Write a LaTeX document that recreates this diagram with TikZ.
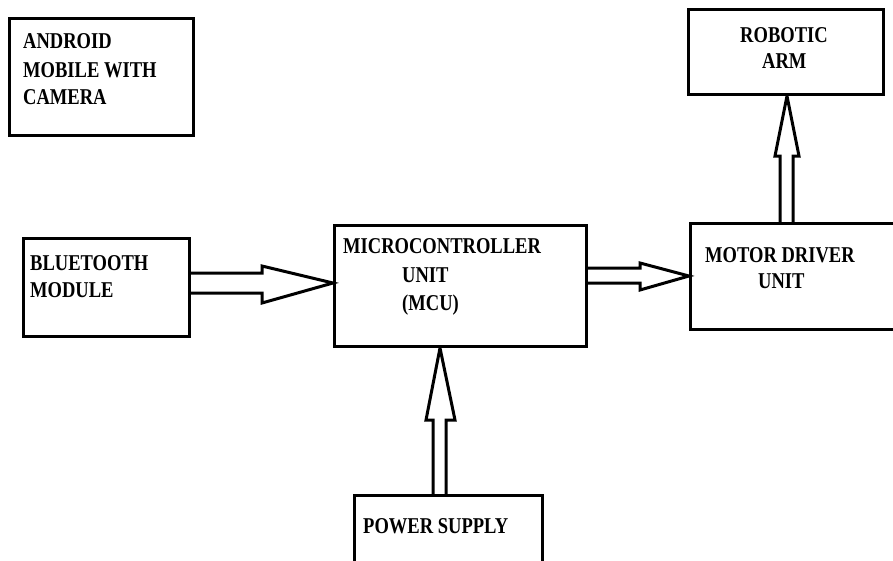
\documentclass[tikz,border=0pt]{standalone}
\usepackage{fontspec}
\setmainfont{Liberation Serif}[FakeStretch=0.82]
\usetikzlibrary{calc}
\tikzset{
  box/.style={draw, line width=3pt, rectangle, inner sep=0pt, anchor=north west},
  lbl/.style={anchor=base west, inner sep=0pt, font=\fontsize{22.6}{28}\selectfont\bfseries},
  barrow/.style={draw, line width=3pt, line join=miter, miter limit=4}
}
\begin{document}
\begin{tikzpicture}[x=1pt, y=-1pt]
\useasboundingbox[fill=white] (0,0) rectangle (893,560);
% boxes
\node[box, minimum width=184pt, minimum height=117pt] (and) at (8,17) {};
\node[box, minimum width=166pt, minimum height=98pt] (bt) at (22,237) {};
\node[box, minimum width=252pt, minimum height=121pt] (mcu) at (333,224) {};
\node[box, minimum width=240pt, minimum height=106pt] (mot) at (689,222) {};
\node[box, minimum width=195pt, minimum height=85pt] (rob) at (687,8) {};
\node[box, minimum width=188pt, minimum height=90pt] (pwr) at (353,494) {};
% texts
\node[lbl] (t1) at (23,48) {ANDROID};
\node[lbl] (t2) at (23,77) {MOBILE WITH};
\node[lbl] (t3) at (23,104) {CAMERA};
\node[lbl] (t4) at (30,270) {BLUETOOTH};
\node[lbl] (t5) at (30,297) {MODULE};
\node[lbl] (t6) at (343,253) {MICROCONTROLLER};
\node[lbl] (t7) at (402,282) {UNIT};
\node[lbl] (t8) at (402,310) {(MCU)};
\node[lbl] (t9) at (705,262) {MOTOR DRIVER};
\node[lbl] (t10) at (758,288) {UNIT};
\node[lbl] (t11) at (740,42) {ROBOTIC};
\node[lbl] (t12) at (762,68) {ARM};
\node[lbl] (t13) at (363,533) {POWER SUPPLY};
% block arrows
\draw[barrow] (bt.east |- {(0,273)}) -- (262,273) -- (262,266)
  -- (mcu.west |- {(0,283)}) -- (262,303) -- (262,293) -- (bt.east |- {(0,293)});
\draw[barrow] (mcu.east |- {(0,268)}) -- (640,268) -- (640,263)
  -- (mot.west |- {(0,276)}) -- (640,290) -- (640,283) -- (mcu.east |- {(0,283)});
\draw[barrow] ({(780,0)} |- mot.north) -- (780,156) -- (775,156)
  -- ({(787,0)} |- rob.south) -- (799,156) -- (793,156) -- ({(793,0)} |- mot.north);
\draw[barrow] ({(433,0)} |- pwr.north) -- (433,420) -- (426,420)
  -- ({(440,0)} |- mcu.south) -- (455,420) -- (446,420) -- ({(446,0)} |- pwr.north);
\end{tikzpicture}
\end{document}
